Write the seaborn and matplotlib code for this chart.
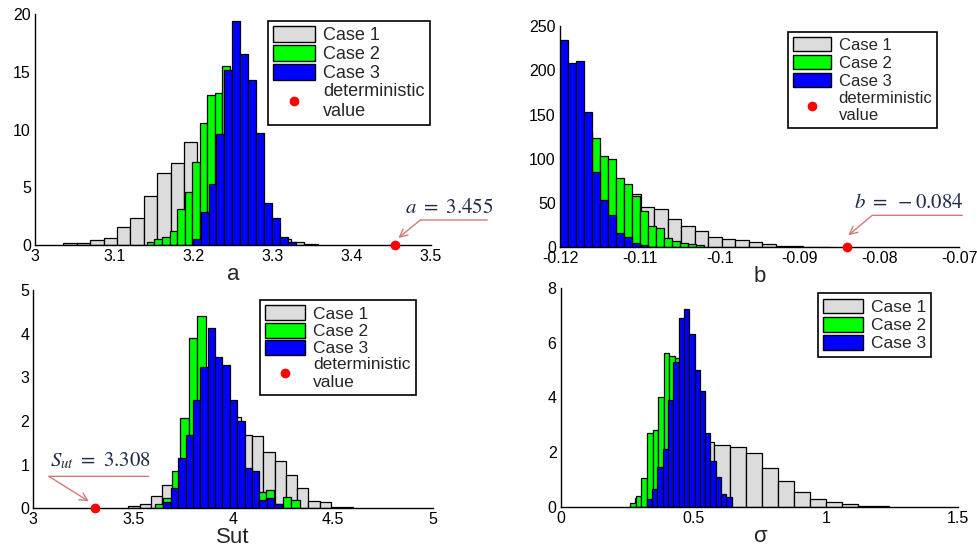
import numpy as np
import pandas as pd
import matplotlib
matplotlib.use('Agg')
import matplotlib.pyplot as plt
from matplotlib.patches import Patch
from matplotlib.lines import Line2D
from matplotlib.transforms import offset_copy
import seaborn as sns

# ---- histogram data (bin start, bin width, heights) ----
# parameter a
a_case1_start, a_case1_width = 3.036, 0.0169
a_case1 = [0.15, 0.15, 0.43, 0.63, 1.59, 2.34, 4.27, 6.2, 7.07, 8.89,
           7.1, 8.5, 7.5, 5.5, 3.5, 1.8, 0.5, 0.25, 0.08]
a_case2_start, a_case2_width = 3.1414, 0.0095
a_case2 = [0.29, 0.49, 0.72, 1.24, 3.15, 4.59, 7.16, 10.53, 12.96, 13.19,
           15.5, 14.0, 11.0, 7.5, 4.5, 2.2, 0.9, 0.3]
a_case3_start, a_case3_width = 3.1992, 0.0100
a_case3 = [0.49, 2.83, 5.25, 9.58, 15.15, 19.4, 16.5, 14.3, 9.72, 3.67,
           2.34, 0.72, 0.23]
a_det = 3.455

# parameter b
b_case1_start, b_case1_width = -0.12, 0.00169
b_case1 = [95, 90, 85, 78, 68, 60, 46, 43, 31.6, 24, 18.5, 11.3, 9.2, 8.3,
           6.4, 3.4, 1.7, 1.5, 0.8, 0.7]
b_case2_start, b_case2_width = -0.12, 0.001
b_case2 = [140, 150, 145, 130, 123, 103, 99.4, 78.7, 71.5, 58, 41, 24.5,
           21.8, 10.5, 7.5, 4.5, 3.4, 2.6]
b_case3_start, b_case3_width = -0.12, 0.001
b_case3 = [234, 208.6, 210.5, 152.9, 85.5, 53.5, 36.1, 15.8, 11.3, 4.5,
           2.3, 0.8]
b_det = -0.084

# Sut
s_case1_start, s_case1_width = 3.476, 0.0563
s_case1 = [0.05, 0.11, 0.29, 0.53, 0.8, 1.2, 1.6, 2.0, 2.2, 2.1, 1.68,
           1.66, 1.30, 1.08, 0.76, 0.47, 0.17, 0.15, 0.04, 0.03]
s_case2_start, s_case2_width = 3.609, 0.0426
s_case2 = [0.09, 0.23, 0.85, 2.06, 3.89, 4.40, 3.0, 2.8, 2.2, 1.6, 0.8,
           0.6, 0.38, 0.41, 0.1, 0.27, 0.19]
s_case3_start, s_case3_width = 3.651, 0.03704
s_case3 = [0.14, 0.46, 1.15, 1.68, 2.48, 3.23, 4.14, 3.47, 3.28, 2.48, 2.0,
           0.93, 0.85, 0.18, 0.24, 0.11]
s_det = 3.308

# sigma
g_case1_start, g_case1_width = 0.28, 0.06
g_case1 = [0.3, 1.2, 2.0, 2.3, 2.38, 2.26, 2.17, 1.95, 1.40, 0.95, 0.55,
           0.28, 0.16, 0.085, 0.03, 0.02]
g_case2_start, g_case2_width = 0.2615, 0.0212
g_case2 = [0.15, 0.39, 1.04, 2.71, 2.81, 4.03, 5.62, 5.52, 5.46, 5.0, 4.3,
           3.4, 2.5, 1.6, 0.9, 0.4, 0.15]
g_case3_start, g_case3_width = 0.325, 0.02
g_case3 = [0.27, 0.63, 1.47, 2.11, 3.91, 5.31, 6.90, 7.24, 6.31, 5.0, 4.25,
           2.7, 1.67, 1.10, 0.45, 0.34]

case_labels = ['Case 1', 'Case 2', 'Case 3']
case_colors = ['#dcdcdc', '#00ff00', '#0000ff']

sns.set_style('white')
plt.rcParams['font.family'] = ['Liberation Sans', 'DejaVu Sans']
plt.rcParams['mathtext.fontset'] = 'stix'

fig = plt.figure(figsize=(9.77, 5.47), dpi=100)


def draw_hist(ax, start, width, heights, color):
    n = len(heights)
    edges = [start + width * i for i in range(n + 1)]
    df = pd.DataFrame({'x': [e + width / 2 for e in edges[:-1]],
                       'w': list(heights)})
    sns.histplot(data=df, x='x', weights='w', bins=edges, color=color,
                 edgecolor='black', linewidth=0.9, alpha=1, ax=ax)


def style_axes(ax, xlim, xticks, xticklabels, ylim, yticks, xlabel):
    ax.set_xlim(xlim)
    ax.set_ylim(ylim)
    ax.set_xticks(xticks)
    ax.set_xticklabels(xticklabels)
    ax.set_yticks(yticks)
    ax.set_ylabel('')
    ax.set_xlabel(xlabel, fontsize=16, labelpad=0)
    for s in ['top', 'right']:
        ax.spines[s].set_visible(False)
    for s in ['left', 'bottom']:
        ax.spines[s].set_color('black')
        ax.spines[s].set_linewidth(1.0)
    ax.tick_params(direction='in', length=4, width=1, labelsize=11.5, pad=3,
                   colors='black')


def add_legend(ax, anchor, fontsize, with_det=True, spacing=0.12):
    handles = [Patch(facecolor=c, edgecolor='black', linewidth=1.0)
               for c in case_colors]
    labels = list(case_labels)
    if with_det:
        handles.append(Line2D([], [], marker='o', color='red', ls='none', ms=6))
        labels.append('deterministic\nvalue')
    leg = ax.legend(handles, labels, loc='upper left', bbox_to_anchor=anchor,
                    borderaxespad=0, fontsize=fontsize, frameon=True,
                    fancybox=False, framealpha=1, edgecolor='black',
                    handlelength=2.3, handleheight=0.95, labelspacing=spacing,
                    handletextpad=0.45, borderpad=0.3)
    leg.get_frame().set_linewidth(1.2)


def mark_det(ax, xd, label, tip, left, right, text_pos):
    ax.plot([xd], [0], 'o', color='red', ms=6, clip_on=False, zorder=6)
    arrow_col = '#d47a7a'
    t_tip = offset_copy(ax.transData, fig=fig, x=tip[0], y=tip[1], units='dots')
    t_left = offset_copy(ax.transData, fig=fig, x=left[0], y=left[1], units='dots')
    ax.annotate('', xy=(xd, 0), xycoords=t_tip,
                xytext=(left[0] - tip[0], left[1] - tip[1]),
                textcoords='offset pixels',
                arrowprops=dict(arrowstyle='->', color=arrow_col, lw=1.0,
                                shrinkA=0, shrinkB=0, mutation_scale=14),
                annotation_clip=False)
    ax.annotate('', xy=(xd, 0), xycoords=t_left,
                xytext=(right[0] - left[0], right[1] - left[1]),
                textcoords='offset pixels',
                arrowprops=dict(arrowstyle='-', color=arrow_col, lw=1.0,
                                shrinkA=0, shrinkB=0),
                annotation_clip=False)
    ax.annotate(label, xy=(xd, 0), xytext=text_pos, textcoords='offset pixels',
                ha='center', va='center', fontsize=15, color='#1f2b48',
                annotation_clip=False)


# ---- a ----
ax1 = fig.add_axes([0.0358, 0.5521, 0.4053, 0.4223])
draw_hist(ax1, a_case1_start, a_case1_width, a_case1, case_colors[0])
draw_hist(ax1, a_case2_start, a_case2_width, a_case2, case_colors[1])
draw_hist(ax1, a_case3_start, a_case3_width, a_case3, case_colors[2])
style_axes(ax1, (3, 3.5), [3, 3.1, 3.2, 3.3, 3.4, 3.5],
           ['3', '3.1', '3.2', '3.3', '3.4', '3.5'], (0, 20), [0, 5, 10, 15, 20], 'a')
add_legend(ax1, (0.588, 0.970), 13, spacing=0.05)
mark_det(ax1, a_det, r'$a\ =\ 3.455$', (3, 7), (25, 25), (92, 25), (54, 38))

# ---- b ----
ax2 = fig.add_axes([0.5732, 0.5479, 0.4084, 0.4046])
draw_hist(ax2, b_case1_start, b_case1_width, b_case1, case_colors[0])
draw_hist(ax2, b_case2_start, b_case2_width, b_case2, case_colors[1])
draw_hist(ax2, b_case3_start, b_case3_width, b_case3, case_colors[2])
style_axes(ax2, (-0.12, -0.07), [-0.12, -0.11, -0.10, -0.09, -0.08, -0.07],
           ['-0.12', '-0.11', '-0.1', '-0.09', '-0.08', '-0.07'],
           (0, 250), [0, 50, 100, 150, 200, 250], 'b')
add_legend(ax2, (0.571, 0.973), 12, spacing=0.12)
mark_det(ax2, b_det, r'$b\ =\ -0.084$', (1, 12), (25, 32), (115, 32), (61, 45))

# ---- Sut ----
ax3 = fig.add_axes([0.0341, 0.0707, 0.4088, 0.3991])
draw_hist(ax3, s_case1_start, s_case1_width, s_case1, case_colors[0])
draw_hist(ax3, s_case2_start, s_case2_width, s_case2, case_colors[1])
draw_hist(ax3, s_case3_start, s_case3_width, s_case3, case_colors[2])
style_axes(ax3, (3, 5), [3, 3.5, 4, 4.5, 5], ['3', '3.5', '4', '4.5', '5'],
           (0, 5), [0, 1, 2, 3, 4, 5], 'Sut')
add_legend(ax3, (0.5675, 0.954), 12.5, spacing=0.05)
mark_det(ax3, s_det, r'$S_{ut}\ =\ 3.308$', (-6, 7), (-46, 32), (54, 32), (6, 48))

# ---- sigma ----
ax4 = fig.add_axes([0.5739, 0.0737, 0.4070, 0.3993])
draw_hist(ax4, g_case1_start, g_case1_width, g_case1, case_colors[0])
draw_hist(ax4, g_case2_start, g_case2_width, g_case2, case_colors[1])
draw_hist(ax4, g_case3_start, g_case3_width, g_case3, case_colors[2])
style_axes(ax4, (0, 1.5), [0, 0.5, 1, 1.5], ['0', '0.5', '1', '1.5'],
           (0, 8), [0, 2, 4, 6, 8], 'σ')
add_legend(ax4, (0.647, 0.977), 12.5, with_det=False, spacing=0.1)

fig.savefig('out.png', dpi=100, facecolor='white')
